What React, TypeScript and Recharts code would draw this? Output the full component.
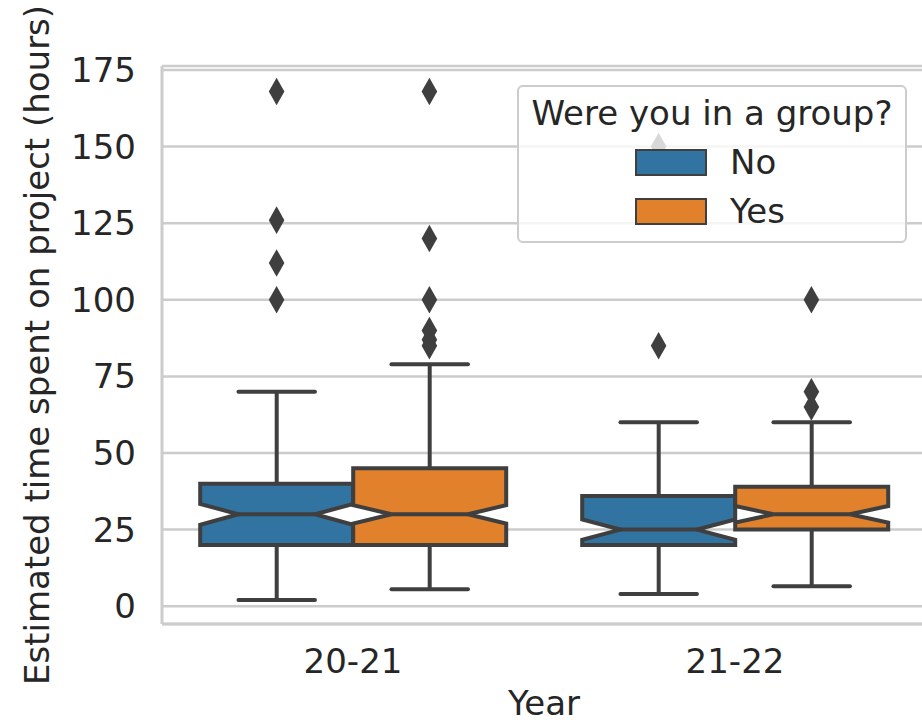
import { ComposedChart, Bar, Scatter, XAxis, YAxis, CartesianGrid, Legend } from 'recharts'

const years = ['20-21', '21-22']
const yTicks = [0, 25, 50, 75, 100, 125, 150, 175]

// group = No
const noLow = [2, 4]
const noQ1 = [20, 20]
const noMedian = [30, 25]
const noQ3 = [40, 36]
const noHigh = [70, 60]
const noNotch = [3.4, 3.3]
const noOutliers = [[168, 126, 112, 100], [150, 85]]

// group = Yes
const yesLow = [5.5, 6.5]
const yesQ1 = [20, 25]
const yesMedian = [30, 30]
const yesQ3 = [45, 39]
const yesHigh = [79, 60]
const yesNotch = [3.0, 2.7]
const yesOutliers = [[168, 120, 100, 90, 87, 85], [100, 70, 65]]

const FONT = '"DejaVu Sans", sans-serif'
const TEXT = '#262626'
const LINE = '#3f3f3f'
const GRID = '#cccccc'

const groups = [
  { key: 'no', name: 'No', color: '#3274a1', low: noLow, q1: noQ1, median: noMedian, q3: noQ3, high: noHigh, notch: noNotch, outliers: noOutliers, dodge: -0.2 },
  { key: 'yes', name: 'Yes', color: '#e1812c', low: yesLow, q1: yesQ1, median: yesMedian, q3: yesQ3, high: yesHigh, notch: yesNotch, outliers: yesOutliers, dodge: 0.2 },
]

const chartData = years.map((year, i) => {
  const row: any = { year }
  groups.forEach((g) => {
    row[g.key] = [g.low[i], g.high[i]]
    row[g.key + 'Stats'] = { low: g.low[i], q1: g.q1[i], median: g.median[i], q3: g.q3[i], high: g.high[i], notch: g.notch[i] }
  })
  return row
})

const outlierData = groups.map((g) =>
  years.flatMap((_, i) => g.outliers[i].map((value) => ({ pos: i + g.dodge, value })))
)

function makeBoxShape(key: string, color: string) {
  return (props: any) => {
    const { x, y, width, height, payload } = props
    const s = payload[key + 'Stats']
    const top = Math.min(y, y + height)
    const bottom = Math.max(y, y + height)
    // the bar spans low..high whisker, so map the other stats inside it
    const perUnit = (bottom - top) / (s.high - s.low)
    const py = (v: number) => bottom - (v - s.low) * perUnit
    const left = x
    const right = x + width
    const cx = x + width / 2
    const capL = cx - width / 4
    const capR = cx + width / 4
    const q1 = py(s.q1)
    const q3 = py(s.q3)
    const med = py(s.median)
    const nLo = py(s.median - s.notch)
    const nHi = py(s.median + s.notch)
    const lo = py(s.low)
    const hi = py(s.high)
    const pts = [
      [left, q1], [right, q1], [right, nLo], [capR, med], [right, nHi],
      [right, q3], [left, q3], [left, nHi], [capL, med], [left, nLo],
    ].map((p) => p.join(',')).join(' ')
    return (
      <g>
        <line x1={cx} x2={cx} y1={q1} y2={lo} stroke={LINE} strokeWidth={4} />
        <line x1={cx} x2={cx} y1={q3} y2={hi} stroke={LINE} strokeWidth={4} />
        <line x1={capL} x2={capR} y1={lo} y2={lo} stroke={LINE} strokeWidth={4} strokeLinecap="round" />
        <line x1={capL} x2={capR} y1={hi} y2={hi} stroke={LINE} strokeWidth={4} strokeLinecap="round" />
        <polygon points={pts} fill={color} stroke={LINE} strokeWidth={4} />
        <line x1={capL} x2={capR} y1={med} y2={med} stroke={LINE} strokeWidth={4} />
      </g>
    )
  }
}

const Diamond = (props: any) => {
  const { cx, cy } = props
  return <polygon points={`${cx},${cy - 13.8} ${cx + 7.8},${cy} ${cx},${cy + 13.8} ${cx - 7.8},${cy}`} fill={LINE} />
}

function GroupLegend(props: any) {
  const items = (props.payload || []).filter((p: any) => p.type !== 'none')
  return (
    <div
      style={{
        position: 'relative',
        boxSizing: 'border-box',
        width: 390,
        height: 158,
        border: `2px solid ${GRID}`,
        borderRadius: 6,
        background: 'rgba(255,255,255,0.8)',
        fontFamily: FONT,
        color: TEXT,
        fontSize: 34,
        lineHeight: '40px',
      }}
    >
      <div style={{ position: 'absolute', top: 6, left: 0, width: '100%', textAlign: 'center', whiteSpace: 'nowrap' }}>
        Were you in a group?
      </div>
      {items.map((p: any, i: number) => (
        <div key={p.value}>
          <div
            style={{
              position: 'absolute',
              top: 62 + i * 49,
              left: 116,
              width: 72,
              height: 27,
              boxSizing: 'border-box',
              background: p.color,
              border: `2px solid ${LINE}`,
            }}
          />
          <div style={{ position: 'absolute', top: 55 + i * 49, left: 211, whiteSpace: 'nowrap' }}>{p.value}</div>
        </div>
      ))}
    </div>
  )
}

export default function App() {
  const tick = { fill: TEXT, fontSize: 34, fontFamily: FONT }
  return (
    <div style={{ position: 'absolute', left: 0, top: 0, width: 922, height: 724, overflow: 'hidden', background: '#fff' }}>
      <ComposedChart
        width={940}
        height={724}
        data={chartData}
        margin={{ top: 66, right: 14, bottom: 0, left: 0 }}
        barCategoryGap="10%"
        barGap={0}
      >
        <CartesianGrid vertical={false} stroke={GRID} strokeWidth={2.5} />
        <XAxis
          dataKey="year"
          height={100}
          tick={tick}
          tickLine={false}
          tickSize={0}
          tickMargin={25}
          axisLine={{ stroke: GRID, strokeWidth: 3 }}
          label={{ value: 'Year', position: 'insideBottom', offset: 9, fill: TEXT, fontSize: 34, fontFamily: FONT }}
        />
        <XAxis
          xAxisId="pos"
          dataKey="pos"
          type="number"
          orientation="top"
          domain={[-0.5, 1.5]}
          allowDataOverflow
          height={0}
          tick={false}
          tickLine={false}
          axisLine={{ stroke: GRID, strokeWidth: 3 }}
        />
        <YAxis
          type="number"
          width={162}
          domain={[-5.8, 176.3]}
          allowDataOverflow
          ticks={yTicks}
          interval={0}
          tick={tick}
          tickLine={false}
          tickSize={0}
          tickMargin={26}
          axisLine={{ stroke: GRID, strokeWidth: 3 }}
          label={{
            value: 'Estimated time spent on project (hours)',
            angle: -90,
            position: 'insideLeft',
            offset: 37,
            fill: TEXT,
            fontSize: 34,
            fontFamily: FONT,
            style: { textAnchor: 'middle' },
          }}
        />
        {groups.map((g) => (
          <Bar
            key={g.key}
            dataKey={g.key}
            name={g.name}
            fill={g.color}
            shape={makeBoxShape(g.key, g.color)}
            isAnimationActive={false}
          />
        ))}
        {groups.map((g, gi) => (
          <Scatter
            key={'out-' + g.key}
            xAxisId="pos"
            data={outlierData[gi]}
            dataKey="value"
            fill={LINE}
            shape={Diamond}
            legendType="none"
            isAnimationActive={false}
          />
        ))}
        <Legend
          layout="vertical"
          align="center"
          verticalAlign="middle"
          content={GroupLegend}
          wrapperStyle={{ left: 517, top: 85, width: 390, height: 158 }}
        />
      </ComposedChart>
    </div>
  )
}
